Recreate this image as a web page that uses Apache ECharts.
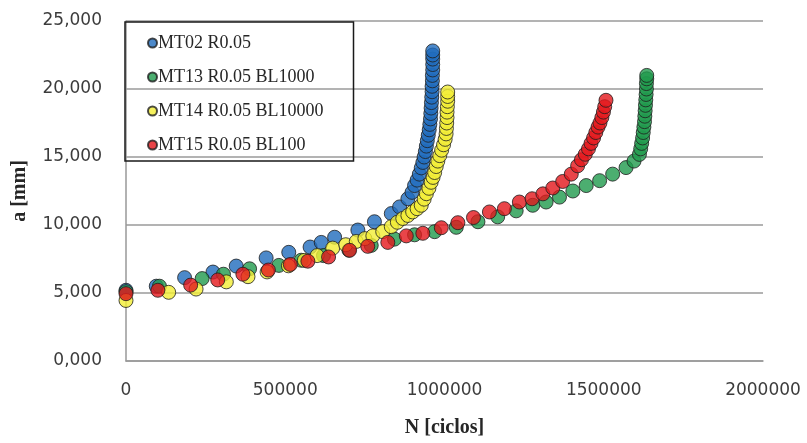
<!DOCTYPE html>
<html>
<head>
<meta charset="utf-8">
<script src="https://cdn.jsdelivr.net/npm/echarts@6/dist/echarts.min.js"></script>
<style>
  html, body { margin: 0; padding: 0; background: #ffffff; }
  #chart { width: 807px; height: 443px; }
</style>
</head>
<body>
<div id="chart"></div>
<script>
// Crack length a [mm] versus number of cycles N for four specimens
const seriesNames = ['MT02 R0.05', 'MT13 R0.05 BL1000', 'MT14 R0.05 BL10000', 'MT15 R0.05 BL100'];
const seriesColors = ['#1f6cbd', '#1f9a4c', '#f3ee34', '#e3161b'];

const yTicks = [0, 5, 10, 15, 20, 25];
const xTicks = [0, 500000, 1000000, 1500000, 2000000];

const mt02 = [
  [0, 5.2], [95000, 5.5], [184000, 6.13], [273000, 6.54], [346000, 6.98], [440000, 7.58],
  [511000, 7.99], [578000, 8.38], [613000, 8.72], [655000, 9.1], [728000, 9.63], [780000, 10.24],
  [833000, 10.84], [859000, 11.33], [885000, 11.93], [898000, 12.4], [906000, 12.9], [914000, 13.3],
  [921000, 13.74], [927000, 14.2], [932000, 14.6], [936000, 15.0], [940000, 15.4], [943000, 15.8],
  [946000, 16.2], [949000, 16.6], [952000, 17.0], [954000, 17.4], [956000, 17.8], [957000, 18.2],
  [958000, 18.6], [959000, 19.0], [960000, 19.4], [961000, 19.8], [961000, 20.2], [962000, 20.6],
  [962000, 21.0], [963000, 21.4], [963000, 21.8], [963000, 22.2], [963000, 22.5], [963000, 22.8]
];

const mt13 = [
  [0, 5.1], [105000, 5.5], [239000, 6.06], [306000, 6.38], [388000, 6.78], [480000, 7.03],
  [550000, 7.41], [620000, 7.75], [700000, 8.15], [770000, 8.5], [843000, 8.96], [906000, 9.28],
  [969000, 9.51], [1037000, 9.83], [1105000, 10.24], [1167000, 10.6], [1225000, 11.04], [1277000, 11.45],
  [1319000, 11.69], [1361000, 12.05], [1403000, 12.5], [1445000, 12.9], [1487000, 13.26], [1528000, 13.74],
  [1570000, 14.22], [1595000, 14.7], [1612000, 15.19], [1616000, 15.6], [1619000, 16.0], [1622000, 16.4],
  [1624000, 16.8], [1626000, 17.2], [1628000, 17.6], [1629000, 18.0], [1630000, 18.4], [1631000, 18.8],
  [1632000, 19.2], [1633000, 19.6], [1634000, 20.0], [1634000, 20.4], [1635000, 20.75], [1635000, 21.0]
];

const mt14 = [
  [0, 4.45], [134000, 5.05], [220000, 5.29], [315000, 5.82], [383000, 6.2], [443000, 6.55],
  [510000, 7.0], [560000, 7.4], [600000, 7.75], [649000, 8.3], [690000, 8.55], [723000, 8.79],
  [750000, 9.0], [775000, 9.2], [806000, 9.51], [833000, 9.88], [852000, 10.2], [869000, 10.48],
  [885000, 10.7], [900000, 10.96], [914000, 11.2], [927000, 11.45], [936000, 11.9], [943000, 12.3],
  [951000, 12.7], [958000, 13.14], [964000, 13.5], [969000, 13.86], [974000, 14.3], [979000, 14.7],
  [985000, 15.1], [991000, 15.5], [997000, 15.9], [1002000, 16.3], [1005000, 16.7], [1006000, 17.1],
  [1007000, 17.5], [1008000, 17.9], [1008000, 18.3], [1009000, 18.7], [1010000, 19.1], [1010000, 19.45],
  [1010000, 19.78]
];

const mt15 = [
  [0, 4.95], [100000, 5.2], [203000, 5.58], [288000, 5.96], [367000, 6.38], [447000, 6.69],
  [516000, 7.1], [571000, 7.34], [636000, 7.65], [702000, 8.14], [759000, 8.43], [822000, 8.72],
  [880000, 9.2], [932000, 9.39], [990000, 9.8], [1042000, 10.17], [1091000, 10.55], [1141000, 10.96],
  [1188000, 11.2], [1235000, 11.69], [1275000, 11.93], [1309000, 12.29], [1340000, 12.72], [1371000, 13.2],
  [1398000, 13.74], [1418000, 14.35], [1430000, 14.8], [1442000, 15.2], [1452000, 15.6], [1460000, 16.0],
  [1468000, 16.4], [1475000, 16.8], [1482000, 17.2], [1488000, 17.5], [1494000, 17.9], [1499000, 18.3],
  [1503000, 18.7], [1507000, 19.17]
];

const seriesData = [mt02, mt13, mt14, mt15];

const chart = echarts.init(document.getElementById('chart'), null, { renderer: 'canvas' });

const tickFont = { fontFamily: 'DejaVu Sans', fontSize: 17, color: '#3c3c3c' };
const titleFont = { fontFamily: 'Liberation Serif', fontWeight: 'bold', fontSize: 20, color: '#262626' };

chart.setOption({
  backgroundColor: '#ffffff',
  animation: false,
  grid: { left: 126, right: 44, top: 21, bottom: 77, containLabel: false },
  legend: {
    data: seriesNames,
    orient: 'vertical',
    left: 125,
    top: 22,
    icon: 'circle',
    itemWidth: 9,
    itemHeight: 9,
    itemGap: 14,
    padding: [11, 30, 6, 22],
    borderColor: '#1a1a1a',
    borderWidth: 1.5,
    backgroundColor: 'transparent',
    textStyle: { fontFamily: 'Liberation Serif', fontSize: 18, color: '#262626', lineHeight: 20, padding: [0, 0, 0, -4] }
  },
  xAxis: {
    type: 'value',
    min: xTicks[0],
    max: xTicks[xTicks.length - 1],
    interval: xTicks[1] - xTicks[0],
    name: 'N [ciclos]',
    nameLocation: 'middle',
    nameGap: 57,
    nameTextStyle: titleFont,
    axisLine: { show: true, lineStyle: { color: '#999999', width: 1.5 } },
    axisTick: { show: false },
    splitLine: { show: false },
    axisLabel: Object.assign({ margin: 21, formatter: v => String(v) }, tickFont)
  },
  yAxis: {
    type: 'value',
    min: yTicks[0],
    max: yTicks[yTicks.length - 1],
    interval: yTicks[1] - yTicks[0],
    name: 'a [mm]',
    nameLocation: 'middle',
    nameGap: 96,
    nameRotate: 90,
    nameTextStyle: titleFont,
    axisLine: { show: true, lineStyle: { color: '#999999', width: 1.5 } },
    axisTick: { show: false },
    splitLine: { show: true, lineStyle: { color: '#9a9a9a', width: 1.5 } },
    axisLabel: Object.assign({ margin: 24, formatter: v => v.toFixed(3).replace('.', ',') }, tickFont)
  },
  series: seriesNames.map((name, i) => ({
    name: name,
    type: 'scatter',
    data: seriesData[i],
    symbol: 'circle',
    symbolSize: 14,
    itemStyle: { color: seriesColors[i], borderColor: '#1e1e1e', borderWidth: 1 },
    emphasis: { disabled: true },
    z: 2 + i
  }))
});
</script>
</body>
</html>
